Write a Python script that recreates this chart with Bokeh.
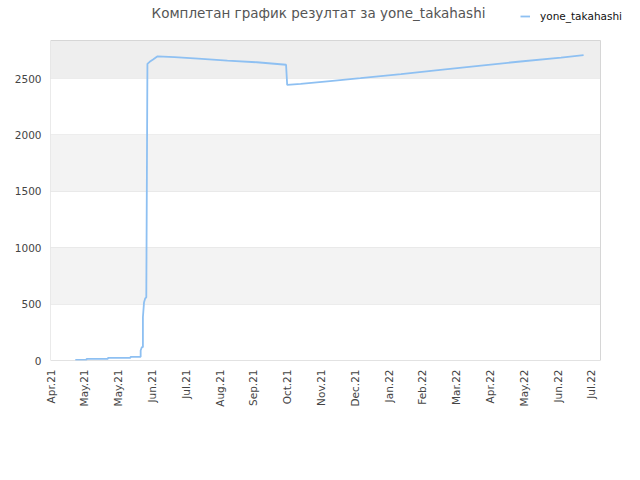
import math
import pandas as pd
from bokeh.plotting import figure
from bokeh.models import (ColumnDataSource, Range1d, FixedTicker, BoxAnnotation,
                          Label, Legend, LegendItem, DatetimeTickFormatter)
from bokeh.embed import file_html
from bokeh.resources import INLINE

# ---- data ----
title_text = "Комплетан график резултат за yone_takahashi"
series_name = "yone_takahashi"

dates = ["2021-04-23", "2021-05-03", "2021-05-03", "2021-05-22", "2021-05-22",
         "2021-06-11", "2021-06-11", "2021-06-20", "2021-06-20", "2021-06-21",
         "2021-06-22", "2021-06-22", "2021-06-23", "2021-06-24", "2021-06-25",
         "2021-06-26", "2021-06-28", "2021-07-01", "2021-07-05", "2021-07-20",
         "2021-08-10", "2021-09-05", "2021-10-01", "2021-10-27", "2021-10-28",
         "2021-11-09", "2021-12-05", "2022-01-01", "2022-02-06", "2022-03-13",
         "2022-04-18", "2022-05-23", "2022-06-28", "2022-07-18"]
values = [6, 6, 15, 15, 24,
          24, 33, 33, 89, 118,
          118, 384, 517, 550, 560,
          2630, 2648, 2668, 2697, 2689,
          2676, 2659, 2644, 2622, 2444,
          2453, 2477, 2503, 2538, 2577,
          2615, 2651, 2686, 2707]

x_start = "2021-04-01"
x_end = "2022-08-02"
y_max = 2837

tick_dates = ["2021-04-01", "2021-05-01", "2021-05-31", "2021-06-30", "2021-07-30",
              "2021-08-29", "2021-09-28", "2021-10-28", "2021-11-27", "2021-12-27",
              "2022-01-26", "2022-02-25", "2022-03-27", "2022-04-26", "2022-05-26",
              "2022-06-25", "2022-07-25"]
tick_labels = ["Apr.21", "May.21", "May.21", "Jun.21", "Jul.21", "Aug.21", "Sep.21",
               "Oct.21", "Nov.21", "Dec.21", "Jan.22", "Feb.22", "Mar.22", "Apr.22",
               "May.22", "Jun.22", "Jul.22"]
y_ticks = [0, 500, 1000, 1500, 2000, 2500]

# ---- layout constants (pixels) ----
FONT = "DejaVu Sans"
W, H = 624, 464
LEFT, BOTTOM = 50, 104          # border for the axes
PLOT_W, PLOT_H = 550, 320       # visible chart box
FRAME_W, FRAME_H = W - LEFT, H - BOTTOM   # frame extends to the top/right edge

def ms(s):
    return int(pd.Timestamp(s).value // 10**6)

x0, x1 = pd.Timestamp(x_start), pd.Timestamp(x_end)
x_frame_end = x0 + (x1 - x0) * (FRAME_W / PLOT_W)
y_frame_end = y_max * FRAME_H / PLOT_H

src = ColumnDataSource(dict(x=pd.to_datetime(dates), y=values))

p = figure(width=W, height=H, output_backend="svg", toolbar_location=None,
           x_axis_type="datetime",
           x_range=Range1d(x0, x_frame_end),
           y_range=Range1d(0, y_frame_end),
           min_border_left=LEFT, min_border_right=0, min_border_top=0,
           min_border_bottom=BOTTOM)
p.outline_line_color = None
p.background_fill_color = "white"
p.border_fill_color = "white"

# alternating bands
for i in range(1, len(y_ticks), 2):
    top = y_ticks[i + 1] if i + 1 < len(y_ticks) else y_max
    p.add_layout(BoxAnnotation(left=x0, right=x1, bottom=y_ticks[i], top=top,
                               fill_color="#f3f3f3", fill_alpha=1.0,
                               line_color=None, level="underlay"))
p.add_layout(BoxAnnotation(left=x0, right=x1, bottom=y_ticks[-1], top=y_max,
                           fill_color="#eeeeee", fill_alpha=1.0,
                           line_color=None, level="underlay"))

# horizontal grid lines limited to the chart box
p.segment(x0=[x0] * len(y_ticks), x1=[x1] * len(y_ticks), y0=y_ticks, y1=y_ticks,
          line_color="#e0e0e0", line_width=1, level="underlay")

# chart box outline
p.quad(left=[x0], right=[x1], bottom=[0], top=[y_max], fill_color=None,
       line_color="#d6d6d6", line_width=1)

r = p.line("x", "y", source=src, line_color="#8ec0f2", line_width=1.8)

# axes
p.xaxis.ticker = FixedTicker(ticks=[ms(d) for d in tick_dates])
p.xaxis.formatter = DatetimeTickFormatter(days="%b.%y", months="%b.%y", years="%b.%y")
p.xaxis.major_label_overrides = {ms(d): lab for d, lab in zip(tick_dates, tick_labels)}
p.xaxis.major_label_orientation = math.pi / 2
p.yaxis.ticker = FixedTicker(ticks=y_ticks)
for ax in (p.xaxis, p.yaxis):
    ax.major_tick_line_color = None
    ax.minor_tick_line_color = None
    ax.major_tick_out = 0
    ax.major_label_standoff = 9
    ax.major_label_text_font = FONT
    ax.major_label_text_font_size = "10.5px"
    ax.major_label_text_color = "#444444"
    ax.axis_line_color = None

p.xgrid.grid_line_color = None
p.ygrid.grid_line_color = None

# title
p.add_layout(Label(x=268, y=348, x_units="screen", y_units="screen", text=title_text,
                   text_font=FONT, text_font_size="13.5px", text_color="#555555",
                   text_align="center", text_baseline="middle"))

# legend
legend = Legend(items=[LegendItem(label=series_name, renderers=[r])],
                location=(470, 338), orientation="horizontal",
                padding=0, margin=0, spacing=0, glyph_width=10, glyph_height=12,
                label_standoff=10, label_text_font=FONT, label_text_font_size="10.5px",
                label_text_color="#111111", border_line_color=None,
                background_fill_alpha=0)
p.add_layout(legend)

open("out.html", "w").write(file_html(p, INLINE))
